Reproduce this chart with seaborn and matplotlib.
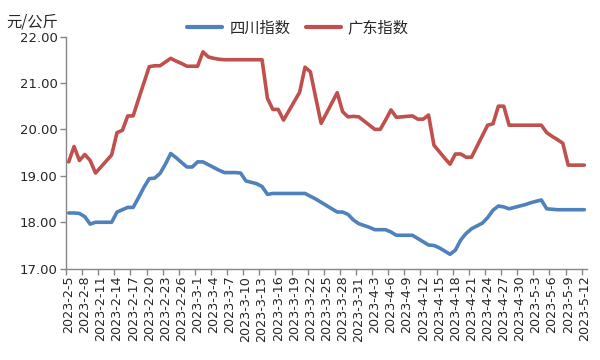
import pandas as pd
import matplotlib
matplotlib.use("Agg")
import matplotlib.pyplot as plt
import seaborn as sns

# Dates (daily, 2023-2-5 .. 2023-5-12)
dates = pd.date_range("2023-02-05", "2023-05-12", freq="D")

# Sichuan index (yuan/kg)
sichuan = [
    18.20, 18.20, 18.19, 18.12, 17.96, 18.00, 18.00, 18.00, 18.00, 18.22,
    18.27, 18.32, 18.32, 18.53, 18.75, 18.94, 18.95, 19.05, 19.25, 19.48,
    19.39, 19.29, 19.19, 19.19, 19.30, 19.30, 19.24, 19.18, 19.12, 19.07,
    19.07, 19.07, 19.06, 18.89, 18.86, 18.83, 18.77, 18.60, 18.62, 18.62,
    18.62, 18.62, 18.62, 18.62, 18.62, 18.56, 18.50, 18.43, 18.36, 18.29,
    18.22, 18.22, 18.17, 18.05, 17.97, 17.93, 17.89, 17.84, 17.84, 17.84,
    17.79, 17.72, 17.72, 17.72, 17.72, 17.65, 17.58, 17.51, 17.50, 17.45,
    17.38, 17.31, 17.40, 17.62, 17.76, 17.86, 17.92, 17.98, 18.10, 18.26,
    18.35, 18.33, 18.29, 18.32, 18.35, 18.38, 18.42, 18.45, 18.48, 18.29,
    18.28, 18.27, 18.27, 18.27, 18.27, 18.27, 18.27,
]

# Guangdong index (yuan/kg)
guangdong = [
    19.30, 19.63, 19.33, 19.46, 19.33, 19.06, 19.19, 19.32, 19.45, 19.93,
    19.98, 20.29, 20.29, 20.65, 21.00, 21.35, 21.37, 21.37, 21.45, 21.53,
    21.47, 21.42, 21.36, 21.36, 21.36, 21.67, 21.56, 21.53, 21.51, 21.50,
    21.50, 21.50, 21.50, 21.50, 21.50, 21.50, 21.50, 20.67, 20.43, 20.43,
    20.20, 20.40, 20.60, 20.80, 21.34, 21.24, 20.68, 20.13, 20.35, 20.57,
    20.79, 20.38, 20.27, 20.28, 20.27, 20.18, 20.09, 20.00, 20.00, 20.20,
    20.42, 20.26, 20.27, 20.28, 20.29, 20.22, 20.22, 20.31, 19.66, 19.52,
    19.38, 19.25, 19.47, 19.47, 19.40, 19.40, 19.63, 19.86, 20.09, 20.12,
    20.50, 20.50, 20.09, 20.09, 20.09, 20.09, 20.09, 20.09, 20.09, 19.93,
    19.85, 19.78, 19.70, 19.23, 19.23, 19.23, 19.23,
]

series_names = ["四川指数", "广东指数"]
colors = ["#4F81BD", "#C0504D"]

x = list(range(len(dates)))
df = pd.DataFrame({
    "x": x * 2,
    "value": sichuan + guangdong,
    "series": [series_names[0]] * len(x) + [series_names[1]] * len(x),
})

sns.set_style("white")
plt.rcParams["font.family"] = ["Noto Sans CJK SC", "DejaVu Sans"]

fig = plt.figure(figsize=(6, 3.6), dpi=100)
ax = fig.add_axes([66 / 600, 1 - 268.7 / 360, (587 - 66) / 600, (268.7 - 36.5) / 360])

sns.lineplot(data=df, x="x", y="value", hue="series", palette=colors,
             linewidth=2.6, ax=ax, legend=False)
for ln in ax.lines:
    ln.set_solid_joinstyle("round")
    ln.set_solid_capstyle("round")

# categories sit between tick marks (Excel style)
ax.set_xlim(-0.5, len(dates) - 0.5)
ax.set_ylim(17, 22)
ax.set_yticks([17, 18, 19, 20, 21, 22])
ax.set_yticklabels([f"{v:.2f}" for v in [17, 18, 19, 20, 21, 22]],
                   family="DejaVu Sans", fontsize=9.5)

ax.set_xticks([i - 0.5 for i in x[::3]])
ax.set_xticklabels([])
ax.set_xticks(x[::3], minor=True)
ax.set_xticklabels([f"{d.year}-{d.month}-{d.day}" for d in dates[::3]], minor=True,
                   rotation=90, family="DejaVu Sans", fontsize=9.2)
ax.set_xlabel("")
ax.set_ylabel("")

for side in ["top", "right"]:
    ax.spines[side].set_visible(False)
for side in ["left", "bottom"]:
    ax.spines[side].set_color("#868686")
    ax.spines[side].set_linewidth(1)
ax.tick_params(axis="both", which="major", direction="out", length=4, width=1,
               color="#868686", left=True, bottom=True, pad=2)
ax.tick_params(axis="x", which="minor", length=0, pad=5, bottom=True)

# unit label and legend
fig.text(6 / 600, 1 - 22 / 360, "元/公斤", ha="left", va="center", fontsize=11)
handles = [plt.Line2D([], [], color=c, linewidth=3) for c in colors]
fig.legend(handles, series_names, loc="center", bbox_to_anchor=(298 / 600, 1 - 28 / 360),
           ncol=2, frameon=False, fontsize=11, handlelength=2.3, handletextpad=0.45,
           columnspacing=1.0)

fig.savefig("out.png", dpi=100)
